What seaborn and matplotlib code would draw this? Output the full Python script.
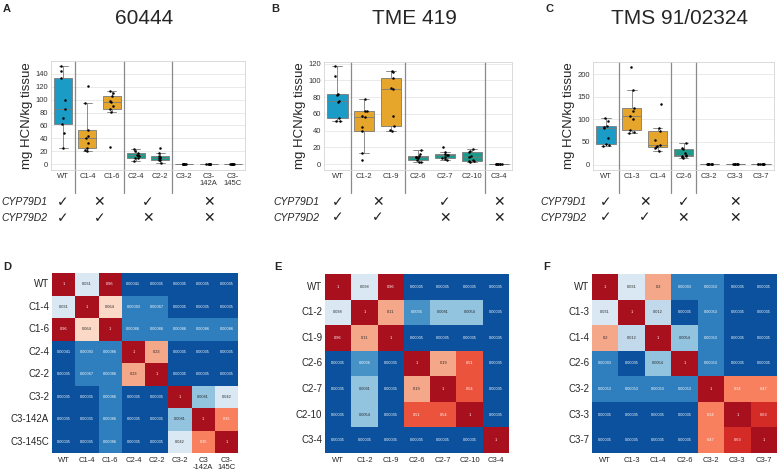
import numpy as np
import pandas as pd
import seaborn as sns
import matplotlib.pyplot as plt
from matplotlib.colors import ListedColormap, BoundaryNorm
import matplotlib.transforms as mtrans

sns.set_theme(style="white")
plt.rcParams['font.family'] = ['Liberation Sans', 'DejaVu Sans']
np.random.seed(3)

# ---- HCN content per line (mg HCN/kg tissue) ----
a_lines = ["WT", "C1-4", "C1-6", "C2-4", "C2-2", "C3-2", "C3-142A", "C3-145C"]
a_ticks = ["WT", "C1-4", "C1-6", "C2-4", "C2-2", "C3-2", "C3-\n142A", "C3-\n145C"]
a_wt = [25, 48, 62, 72, 86, 100, 133, 145, 152]
a_c14 = [20, 22, 25, 33, 40, 44, 53, 95, 122]
a_c16 = [27, 81, 85, 90, 96, 98, 105, 111, 113]
a_c24 = [5, 9, 10, 12, 14, 15, 18, 20, 23]
a_c22 = [2, 6, 7, 9, 10, 11, 12, 17, 25]
a_c32 = [0.4, 0.6, 0.8, 0.5, 0.7, 0.9, 0.6, 0.5]
a_c3142a = [0.3, 0.4, 0.5, 0.4, 0.3, 0.5, 0.4]
a_c3145c = [0.4, 0.6, 0.5, 0.7, 0.5, 0.6, 0.4, 0.5]

b_lines = ["WT", "C1-2", "C1-9", "C2-6", "C2-7", "C2-10", "C3-4"]
b_wt = [51, 52, 55, 74, 76, 83, 84, 105, 117]
b_c12 = [5, 13, 40, 44, 56, 57, 63, 64, 78]
b_c19 = [40, 41, 45, 57, 90, 91, 103, 110, 111]
b_c26 = [2, 3, 5, 7, 8, 9, 10, 12, 17]
b_c27 = [5, 6, 7, 8, 11, 11.5, 12, 15, 21]
b_c210 = [3, 4, 4, 5, 8, 10, 15, 16, 18]
b_c34 = [0.3, 0.5, 0.4, 0.6, 0.5, 0.4, 0.7, 0.5]

c_lines = ["WT", "C1-3", "C1-4", "C2-6", "C3-2", "C3-3", "C3-7"]
c_wt = [41, 43, 45, 58, 82, 83, 86, 97, 103]
c_c13 = [70, 72, 77, 100, 108, 118, 125, 164, 217]
c_c14 = [30, 37, 38, 41, 43, 55, 75, 82, 134]
c_c26 = [15, 16, 18, 20, 22, 25, 35, 37, 47]
c_c32 = [0.8, 1.2, 1.0, 1.5, 0.9, 1.1, 1.3, 0.7]
c_c33 = [0.6, 0.9, 1.0, 0.8, 0.7, 1.1, 0.9]
c_c37 = [1.0, 1.4, 0.9, 1.2, 1.1, 1.6, 0.8, 1.3]

# genotype group of each line, CYP79D1 / CYP79D2 status per group
a_groups = ["WT", "C1", "C1", "C2", "C2", "C3", "C3", "C3"]
b_groups = ["WT", "C1", "C1", "C2", "C2", "C2", "C3"]
c_groups = ["WT", "C1", "C1", "C2", "C3", "C3", "C3"]
a_d1 = ["✓", "✕", "✓", "✕"]
a_d2 = ["✓", "✓", "✕", "✕"]
b_d1 = ["✓", "✕", "✓", "✕"]
b_d2 = ["✓", "✓", "✕", "✕"]
c_d1 = ["✓", "✕", "✓", "✕"]
c_d2 = ["✓", "✓", "✕", "✕"]

# ---- pairwise p-values ----
d_labels = ["WT", "C1-4", "C1-6", "C2-4", "C2-2", "C3-2", "C3-142A", "C3-145C"]
d_xlabels = ["WT", "C1-4", "C1-6", "C2-4", "C2-2", "C3-2", "C3\n-142A", "C3-\n145C"]
d_p = [
    [1, 0.031, 0.96, 0.00041, 0.00035, 0.00035, 0.00035, 0.00035],
    [0.031, 1, 0.064, 0.00093, 0.00067, 0.00035, 0.00035, 0.00035],
    [0.96, 0.064, 1, 0.00086, 0.00086, 0.00086, 0.00086, 0.00086],
    [0.00041, 0.00093, 0.00086, 1, 0.23, 0.00035, 0.00035, 0.00035],
    [0.00035, 0.00067, 0.00086, 0.23, 1, 0.00035, 0.00035, 0.00035],
    [0.00035, 0.00035, 0.00086, 0.00035, 0.00035, 1, 0.0081, 0.042],
    [0.00035, 0.00035, 0.00086, 0.00035, 0.00035, 0.0081, 1, 0.35],
    [0.00035, 0.00035, 0.00086, 0.00035, 0.00035, 0.042, 0.35, 1],
]
e_labels = ["WT", "C1-2", "C1-9", "C2-6", "C2-7", "C2-10", "C3-4"]
e_p = [
    [1, 0.038, 0.96, 0.00035, 0.00035, 0.00035, 0.00035],
    [0.038, 1, 0.11, 0.0036, 0.0081, 0.0054, 0.00035],
    [0.96, 0.11, 1, 0.00035, 0.00035, 0.00035, 0.00035],
    [0.00035, 0.0036, 0.00035, 1, 0.19, 0.51, 0.00035],
    [0.00035, 0.0081, 0.00035, 0.19, 1, 0.54, 0.00035],
    [0.00035, 0.0054, 0.00035, 0.51, 0.54, 1, 0.00035],
    [0.00035, 0.00035, 0.00035, 0.00035, 0.00035, 0.00035, 1],
]
f_labels = ["WT", "C1-3", "C1-4", "C2-6", "C3-2", "C3-3", "C3-7"]
f_p = [
    [1, 0.031, 0.2, 0.00093, 0.00053, 0.00035, 0.00035],
    [0.031, 1, 0.012, 0.00035, 0.00053, 0.00035, 0.00035],
    [0.2, 0.012, 1, 0.0054, 0.00053, 0.00035, 0.00035],
    [0.00093, 0.00035, 0.0054, 1, 0.00053, 0.00035, 0.00035],
    [0.00053, 0.00053, 0.00053, 0.00053, 1, 0.34, 0.47],
    [0.00035, 0.00035, 0.00035, 0.00035, 0.34, 1, 0.63],
    [0.00035, 0.00035, 0.00035, 0.00035, 0.47, 0.63, 1],
]

group_colors = {"WT": "#1b9cc6", "C1": "#e5a62b", "C2": "#1c9a8b", "C3": "#888888"}
p_bounds = [0, 0.0005, 0.001, 0.005, 0.01, 0.02, 0.05, 0.1, 0.3, 0.5, 0.6, 0.9, 1.01]
p_colors = ['#0b519d', '#2f7fbe', '#4692c6', '#92c4df', '#c2d9ec', '#d9e8f3',
            '#fcd9c6', '#f5a789', '#f8805f', '#ec533d', '#d52b27', '#a8101e']
p_cmap = ListedColormap(p_colors)
p_norm = BoundaryNorm(p_bounds, p_cmap.N)

W, H = 778, 473
fig = plt.figure(figsize=(W / 100, H / 100), dpi=100)


def rect(l, t, r, b):
    return [l / W, 1 - b / H, (r - l) / W, (b - t) / H]


def hcn_panel(ax, lines, ticks, series, groups, ylim, yticks, d1, d2, title, letter, lx):
    df = pd.DataFrame({"line": np.repeat(lines, [len(s) for s in series]),
                       "hcn": np.concatenate(series)})
    pal = {ln: group_colors[g] for ln, g in zip(lines, groups)}
    sns.boxplot(data=df, x="line", y="hcn", hue="line", order=lines, palette=pal,
                showfliers=False, width=0.75, linewidth=0.6, linecolor="#7a7a7a",
                saturation=1, legend=False, ax=ax)
    sns.stripplot(data=df, x="line", y="hcn", order=lines, color="black", size=1.8,
                  jitter=0.12, ax=ax)
    ax.set_xlim(-0.5, len(lines) - 0.5)
    ax.set_ylim(*ylim)
    ax.set_yticks(yticks)
    ax.set_xticks(range(len(lines)))
    ax.set_xticklabels(ticks, fontsize=5.5, color="#333333", linespacing=1.0)
    ax.tick_params(axis="y", labelsize=5.5, labelcolor="#333333", length=0, pad=2)
    ax.tick_params(axis="x", length=0, pad=2)
    ax.set_xlabel("")
    ax.set_ylabel("mg HCN/kg tissue", fontsize=9.5, labelpad=2)
    ax.grid(axis="y", color="#e6e6e6", lw=0.6)
    ax.set_axisbelow(True)
    for s in ax.spines.values():
        s.set_color("#d5d5d5")
        s.set_linewidth(0.6)
    trans = mtrans.blended_transform_factory(ax.transData, ax.transAxes)
    # separators between genotype groups
    centers = []
    start = 0
    for i in range(1, len(groups) + 1):
        if i == len(groups) or groups[i] != groups[i - 1]:
            centers.append((start + i - 1) / 2)
            if i < len(groups):
                ax.plot([i - 0.5, i - 0.5], [1, -0.21], transform=trans, color="#8a8a8a",
                        lw=0.9, clip_on=False)
            start = i
    for cx, s1, s2 in zip(centers, d1, d2):
        ax.text(cx, -0.295, s1, transform=trans, ha="center", va="center", fontsize=10,
                family=["DejaVu Sans"], color="#222222")
        ax.text(cx, -0.44, s2, transform=trans, ha="center", va="center", fontsize=10,
                family=["DejaVu Sans"], color="#222222")
    fig.text(lx / W, 1 - 202 / H, "CYP79D1", fontsize=7.5, style="italic", va="center")
    fig.text(lx / W, 1 - 218 / H, "CYP79D2", fontsize=7.5, style="italic", va="center")
    bb = ax.get_position()
    fig.text((bb.x0 + bb.x1) / 2 - 0.005, 1 - 18 / H, title, fontsize=15, ha="center", va="center")
    fig.text(letter[1] / W, 1 - 9 / H, letter[0], fontsize=8, weight="bold", va="center")


def p_panel(ax, labels, xlabels, p, letter, lx):
    arr = np.array(p, dtype=float)
    annot = np.array([["{:g}".format(v) for v in row] for row in p])
    sns.heatmap(arr, ax=ax, cmap=p_cmap, norm=p_norm, cbar=False, annot=annot, fmt="",
                annot_kws={"fontsize": 2.8}, xticklabels=xlabels, yticklabels=labels)
    ax.tick_params(axis="y", labelsize=7, rotation=0, length=0, pad=2)
    ax.tick_params(axis="x", labelsize=5.5, rotation=0, length=0, pad=3)
    for t in ax.get_xticklabels():
        t.set_linespacing(1.0)
    fig.text(lx / W, 1 - 267 / H, letter, fontsize=8, weight="bold", va="center")


axA = fig.add_axes(rect(51, 61, 245, 170))
axB = fig.add_axes(rect(324, 62, 512, 170))
axC = fig.add_axes(rect(593, 62, 774, 170))

hcn_panel(axA, a_lines, a_ticks, [a_wt, a_c14, a_c16, a_c24, a_c22, a_c32, a_c3142a, a_c3145c],
          a_groups, (-9, 160), range(0, 141, 20), a_d1, a_d2, "60444", ("A", 3), 1)
hcn_panel(axB, b_lines, b_lines, [b_wt, b_c12, b_c19, b_c26, b_c27, b_c210, b_c34],
          b_groups, (-7, 122), range(0, 121, 20), b_d1, b_d2, "TME 419", ("B", 271), 273)
hcn_panel(axC, c_lines, c_lines, [c_wt, c_c13, c_c14, c_c26, c_c32, c_c33, c_c37],
          c_groups, (-12, 227), range(0, 201, 50), c_d1, c_d2, "TMS 91/02324", ("C", 545), 540)

axD = fig.add_axes(rect(52, 273, 238, 453))
axE = fig.add_axes(rect(325, 274, 509, 453))
axF = fig.add_axes(rect(592, 274, 777, 453))
p_panel(axD, d_labels, d_xlabels, d_p, "D", 3)
p_panel(axE, e_labels, e_labels, e_p, "E", 274)
p_panel(axF, f_labels, f_labels, f_p, "F", 543)

fig.savefig("out.png", dpi=100)
